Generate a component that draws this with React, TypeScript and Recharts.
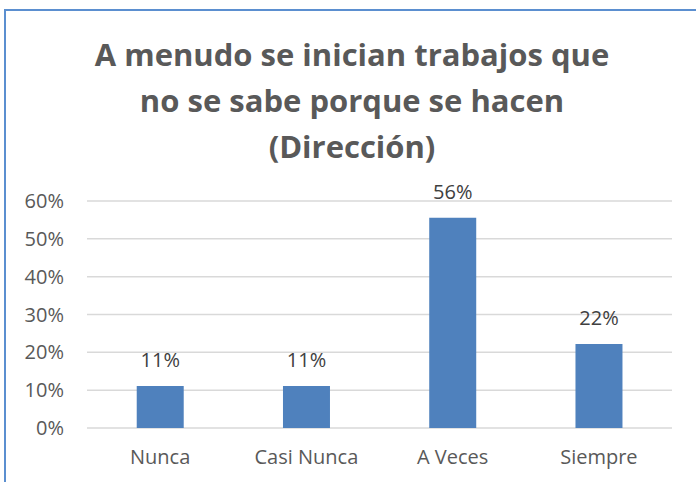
import React from "react";
import { BarChart, Bar, XAxis, YAxis, CartesianGrid, LabelList } from "recharts";

const categories = ["Nunca", "Casi Nunca", "A Veces", "Siempre"];
const values = [0.111, 0.111, 0.556, 0.222];
const yTicks = [0, 0.1, 0.2, 0.3, 0.4, 0.5, 0.6];
const titleLines = ["A menudo se inician trabajos que", "no se sabe porque se hacen", "(Dirección)"];

const data = categories.map((c, i) => ({ name: c, value: values[i] }));

const FONT = "'Open Sans', sans-serif";
const pct = (v: number) => `${Math.round(v * 100)}%`;

export default function App() {
  return (
    <div style={{ position: "absolute", left: 0, top: 0, width: 696, height: 482, overflow: "hidden", background: "#fff" }}>
      <div style={{ position: "absolute", left: 4, top: 9, width: 720, height: 520, border: "2px solid #5b8fd0", boxSizing: "border-box" }} />
      <div style={{ position: "absolute", left: 0, top: 31, width: 704, textAlign: "center", fontFamily: FONT, fontWeight: 700, fontSize: 31, lineHeight: "46px", color: "#595959" }}>
        {titleLines.map((l, i) => (
          <div key={i}>{l}</div>
        ))}
      </div>
      <div style={{ position: "absolute", left: 0, top: 0 }}>
        <BarChart width={696} height={482} data={data} margin={{ top: 201, right: 24, bottom: 24, left: 0 }} barCategoryGap="34%">
          <CartesianGrid vertical={false} stroke="#d9d9d9" strokeWidth={1.5} />
          <XAxis dataKey="name" axisLine={false} tickLine={false} tickSize={0} tickMargin={22} height={30} tick={{ fill: "#595959", fontSize: 20, fontFamily: FONT }} />
          <YAxis domain={[0, 0.6]} ticks={yTicks} tickFormatter={pct} axisLine={false} tickLine={false} width={87} tickSize={0} tickMargin={23} tick={{ fill: "#595959", fontSize: 20, fontFamily: FONT }} interval={0} />
          <Bar dataKey="value" fill="#4f81bd" isAnimationActive={false}>
            <LabelList dataKey="value" position="top" offset={19} formatter={(v: any) => pct(Number(v))} style={{ fill: "#404040", fontSize: 20, fontFamily: FONT }} />
          </Bar>
        </BarChart>
      </div>
    </div>
  );
}
